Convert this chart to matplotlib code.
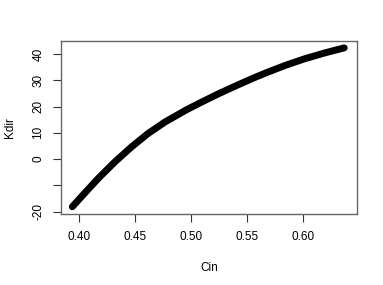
import matplotlib
matplotlib.use("Agg")
import matplotlib.pyplot as plt

# values
cin = [0.3938, 0.4051, 0.4170, 0.4319, 0.4468, 0.4616, 0.4765, 0.4959, 0.5107,
       0.5256, 0.5405, 0.5554, 0.5673, 0.5837, 0.6016, 0.6194, 0.6366]
kdir = [-18.1, -12.8, -7.3, -1.0, 4.7, 9.8, 14.1, 18.8, 22.0,
        25.1, 28.0, 30.8, 32.9, 35.6, 38.2, 40.4, 42.3]

xticks = [0.40, 0.45, 0.50, 0.55, 0.60]
xlabels = ["0.40", "0.45", "0.50", "0.55", "0.60"]
yticks = [-20, -10, 0, 10, 20, 30, 40]
ylabels = ["-20", "", "0", "10", "20", "30", "40"]

plt.rcParams['font.family'] = ['Liberation Sans', 'DejaVu Sans']

fig = plt.figure(figsize=(3.83, 2.85), dpi=100)
ax = fig.add_axes([0.1593, 0.249, 0.7727, 0.607])
ax.plot(cin, kdir, color='black', lw=5, solid_capstyle='round',
        solid_joinstyle='round')

ax.set_xlim(0.3837, 0.648)
ax.set_ylim(-20.87, 44.9)
ax.set_xticks(xticks)
ax.set_xticklabels(xlabels)
ax.set_yticks(yticks)
ax.set_yticklabels(ylabels, rotation=90, va='center')
ax.tick_params(labelsize=8.5, length=6, width=0.8, color='#333333', pad=6)
for s in ax.spines.values():
    s.set_color('#666666')
    s.set_linewidth(1)

ax.set_xlabel('Cin', fontsize=8.5, labelpad=14)
ax.set_ylabel('Kdir', fontsize=8.5, labelpad=12)

fig.savefig('out.png', dpi=100)
